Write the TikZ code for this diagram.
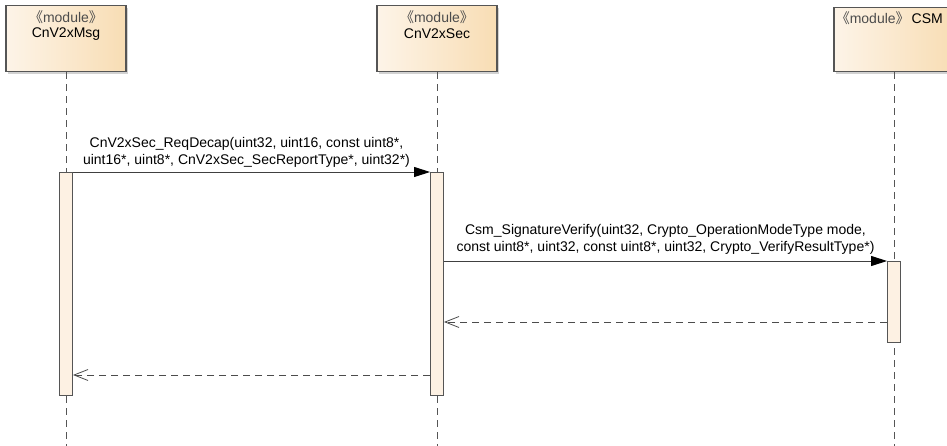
\documentclass[tikz,border=0pt]{standalone}
\usepackage{fontspec}
\setmainfont{Liberation Sans}
\newfontfamily\cjk{Noto Sans CJK SC}
\usetikzlibrary{arrows.meta,shadows,calc}
\definecolor{boxleft}{HTML}{FDF4E8}
\definecolor{boxright}{HTML}{F8DDB4}
\definecolor{barfill}{HTML}{FDF1E3}
\definecolor{linegray}{HTML}{555555}
\tikzset{
  modbox/.style={draw=linegray, line width=1.2pt, left color=boxleft, right color=boxright,
    minimum width=120pt, minimum height=66pt, inner sep=0pt,
    drop shadow={shadow xshift=2pt, shadow yshift=-2pt, fill=black!35, opacity=0.5}},
  lifeline/.style={draw=linegray, line width=0.9pt, dash pattern=on 7pt off 5pt},
  actbar/.style={draw=linegray, line width=0.9pt, fill=barfill, minimum width=13pt, inner sep=0pt},
  msg/.style={draw=black!75, line width=0.9pt, -{Triangle[length=16pt,width=10pt,color=black,fill=black]}},
  ret/.style={draw=black!70, line width=0.9pt, dash pattern=on 7pt off 5pt, -{Straight Barb[length=14pt,width=11pt,line width=0.8pt]}},
  lbl/.style={font=\fontsize{14pt}{17pt}\selectfont, align=center, inner sep=0pt},
  stereo/.style={font=\fontsize{14pt}{16pt}\selectfont, text=black!70, inner sep=0pt},
  mname/.style={font=\fontsize{14pt}{16pt}\selectfont, inner sep=0pt}
}
\begin{document}
\begin{tikzpicture}[x=1pt,y=-1pt]
\useasboundingbox (0,0) rectangle (947,446);
% boxes
\node[modbox, anchor=north] (b1) at (66,5) {};
\node[modbox, anchor=north] (b2) at (437,5) {};
\node[modbox, anchor=north, minimum height=64pt] (b3) at (894,7) {};
\node[stereo] (s1) at (66,17) {{\cjk 《}module{\cjk 》}};
\node[mname] (n1) at (66,34) {CnV2xMsg};
\node[stereo] (s2) at (437,17) {{\cjk 《}module{\cjk 》}};
\node[mname] (n2) at (437,34) {CnV2xSec};
\node[mname, anchor=east] (s3) at (943,18) {\textcolor{black!70}{{\cjk 《}module{\cjk 》}}\kern2pt CSM};
% lifeline ends
\coordinate (e1) at (66,446);
\coordinate (e2) at (437,446);
\coordinate (e3) at (894,446);
\draw[lifeline] (b1.south) -- (e1);
\draw[lifeline] (b2.south) -- (e2);
\draw[lifeline] (b3.south) -- (e3);
% activation bars
\node[actbar, anchor=north, minimum height=223pt] (a1) at (66,172) {};
\node[actbar, anchor=north, minimum height=223pt] (a2) at (437,172) {};
\node[actbar, anchor=north, minimum height=81pt] (a3) at (894,261) {};
% messages
\coordinate (m1s) at (a1.north east);
\coordinate (m1e) at (a2.north west);
\draw[msg] (m1s) -- (m1e);
\node[lbl, anchor=south] (l1) at ($(m1s)!0.5!(m1e)+(-5,-4)$) {CnV2xSec\_ReqDecap(uint32, uint16, const uint8*,\\uint16*, uint8*, CnV2xSec\_SecReportType*, uint32*)};
\coordinate (m2s) at ([yshift=-89pt]a2.north east);
\coordinate (m2e) at (a3.north west);
\draw[msg] (m2s) -- (m2e);
\node[lbl, anchor=south] (l2) at ($(m2s)!0.5!(m2e)+(0,-6)$) {Csm\_SignatureVerify(uint32, Crypto\_OperationModeType mode,\\const uint8*, uint32, const uint8*, uint32, Crypto\_VerifyResultType*)};
% returns
\coordinate (r1s) at ([yshift=-61pt]a3.north west);
\coordinate (r1e) at ([yshift=-150pt]a2.north east);
\draw[ret] (r1s) -- (r1e);
\coordinate (r2s) at ([yshift=-203pt]a2.north west);
\coordinate (r2e) at ([yshift=-203pt]a1.north east);
\draw[ret] (r2s) -- (r2e);
\end{tikzpicture}
\end{document}
